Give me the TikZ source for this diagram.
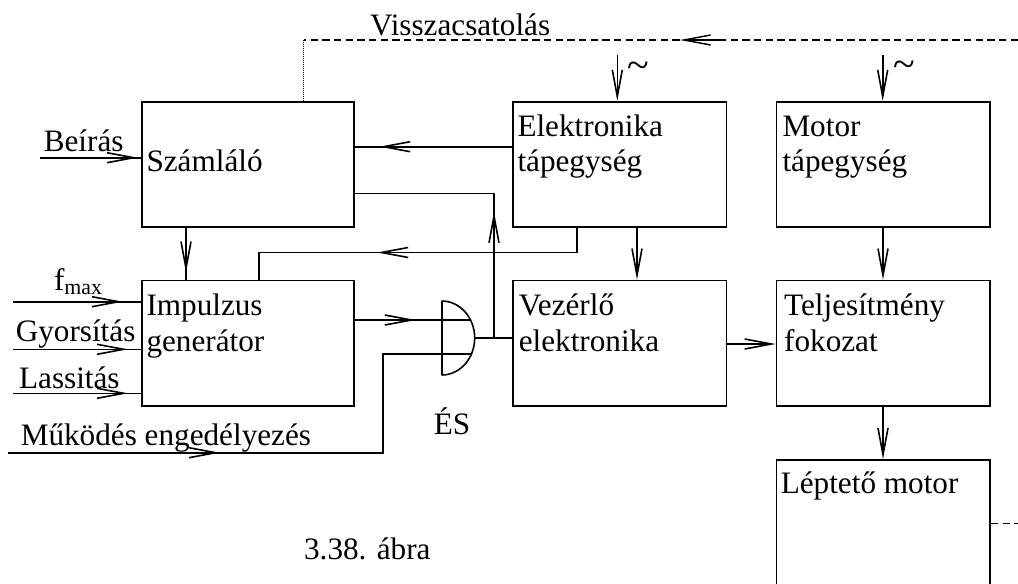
\documentclass[tikz,border=0pt]{standalone}
\usepackage{fontspec}
\setmainfont{Liberation Serif}
\usetikzlibrary{arrows.meta,decorations.markings,calc}
\begin{document}
\begin{tikzpicture}[x=0.75pt,y=-0.75pt,line width=1.2pt,
  blk/.style={draw,rectangle,inner sep=0pt,line width=1.3pt},
  txt/.style={anchor=base west,inner sep=0pt,font=\fontsize{23.4}{27}\selectfont},
  tld/.style={inner sep=0pt,font=\fontsize{30}{30}\selectfont},
  endtip/.style={-{Straight Barb[length=20pt,width=7.5pt]}},
  midarrow/.style={postaction={decorate},decoration={markings,mark=at position #1 with {\arrow{Straight Barb[length=20pt,width=7.5pt]}}}},
  fb/.style={dash pattern=on 5.5pt off 3.25pt,line width=0.8pt},
]
\clip (0,0) rectangle (1018,583);
\fill[white] (0,0) rectangle (1018,583);

% blocks
\node[blk,minimum width=159.2pt,minimum height=93.75pt] (sz)  at (247.85,164.2) {};
\node[blk,minimum width=159.4pt,minimum height=93.9pt]  (imp) at (248,343.1) {};
\node[blk,minimum width=160.35pt,minimum height=93.75pt] (el) at (619.6,164.2) {};
\node[blk,minimum width=160.1pt,minimum height=93.75pt] (mot) at (883.25,164.2) {};
\node[blk,minimum width=160.35pt,minimum height=93.9pt] (vez) at (619.6,343.1) {};
\node[blk,minimum width=160.1pt,minimum height=93.9pt]  (tel) at (883.25,343.1) {};
\node[blk,minimum width=160.1pt,minimum height=120pt]   (lep) at (883.25,540) {};

% block texts
\node[txt] (tsz)  at (145.7,171.7) {Számláló};
\node[txt] (timp1) at (145.7,315) {Impulzus};
\node[txt] (timp2) at (145.7,351.7) {generátor};
\node[txt] (tel1) at (516.7,136) {Elektronika};
\node[txt] (tel2) at (516.7,171) {tápegység};
\node[txt] (tmot1) at (781.7,136) {Motor};
\node[txt] (tmot2) at (781.7,171) {tápegység};
\node[txt] (tvez1) at (518,315) {Vezérlő};
\node[txt] (tvez2) at (518,351.7) {elektronika};
\node[txt] (ttel1) at (783.4,315) {Teljesítmény};
\node[txt] (ttel2) at (783.4,351.7) {fokozat};
\node[txt] (tlep) at (780,493.3) {Léptető motor};

% other texts
\node[txt] (tbe) at (43,151) {Beírás};
\node[txt] (tf) at (53.3,290) {f\textsubscript{max}};
\node[txt] (tgy) at (15,341.7) {Gyorsítás};
\node[txt] (tla) at (18.3,388.3) {Lassitás};
\node[txt] (tmu) at (20,445) {Működés engedélyezés};
\node[txt] (tes) at (433,434) {ÉS};
\node[txt] (tvi) at (369.3,35) {Visszacsatolás};
\node[txt] (tab) at (303.3,559.3) {3.38. ábra};
\node[tld] (til1) at (638,70) {\textasciitilde};
\node[tld] (til2) at (904,69) {\textasciitilde};

% AND gate
\coordinate (gin1) at (470.5,320);
\coordinate (gin2) at (471.5,354);
\coordinate (gout) at (474.7,338);
\draw[line width=1.2pt] (441.7,301) -- (441.7,375);
\draw[line width=1.2pt] (441.7,301) .. controls (459.9,301) and (474.7,317.6) .. (gout)
      .. controls (474.7,358.4) and (459.9,375) .. (441.7,375);

% helper coordinates
\coordinate (rA) at (0,146.7);
\coordinate (rB) at (0,193.3);
\coordinate (jn) at (494,338);
\coordinate (cE) at (577,252.5);
\coordinate (cI) at (259,252.5);
\coordinate (cS) at (186,0);
\coordinate (bin) at (40,157.7);
\coordinate (fin) at (13,301.7);
\coordinate (gyin) at (13,349.3);
\coordinate (lain) at (13,393.3);
\coordinate (en0) at (8,452.7);
\coordinate (en1) at (383,452.7);
\coordinate (acel) at (617.3,55);
\coordinate (acmo) at (882.7,55);
\coordinate (cEV) at (637,0);
\coordinate (cM) at (883,0);
\coordinate (rV) at (0,344);
\coordinate (fbR) at (1018,40);
\coordinate (fbL) at (303.7,40);
\coordinate (fbA) at (680,40);
\coordinate (fbB) at (723,40);
\coordinate (lepR) at (1018,523.3);

% connectors
\draw[midarrow=73.5pt] (bin) -- (bin -| sz.west);
\draw[midarrow=82.5pt] (fin) -- (fin -| imp.west);
\draw[midarrow=86.25pt] (gyin) -- (gyin -| imp.west);
\draw[midarrow=86.25pt] (lain) -- (lain -| imp.west);
\draw[midarrow=99.5pt] (el.west |- rA) -- (sz.east |- rA);
\draw[midarrow=94.7pt] (jn) |- (sz.east |- rB);
\draw[midarrow=33.75pt] (cS |- sz.south) -- (cS |- imp.north);
\draw[midarrow=168.6pt] (cE |- el.south) -- (cE) -- (cI) -- (cI |- imp.north);
\draw[midarrow=45.5pt] (imp.east |- gin1) -- (gin1);
\draw[midarrow=159pt] (en0) -- (en1) |- (gin2);
\draw (gout) -- (gout -| vez.west);
\draw[endtip] (cEV |- el.south) -- (cEV |- vez.north);
\draw[endtip] (cM |- mot.south) -- (cM |- tel.north);
\draw[endtip] (cM |- tel.south) -- (cM |- lep.north);
\draw[endtip] (vez.east |- rV) -- (tel.west |- rV);
\draw[endtip] (acel) -- (acel |- el.north);
\draw[endtip] (acmo) -- (acmo |- mot.north);

% feedback
\draw[fb] (fbR) -- (fbL);
\draw[line width=1.1pt,endtip] (fbB) -- (fbA);
\draw[densely dotted,line width=0.5pt] (fbL) -- (fbL |- sz.north);
\draw[fb] (lep.east |- lepR) -- (lepR);
\end{tikzpicture}
\end{document}
